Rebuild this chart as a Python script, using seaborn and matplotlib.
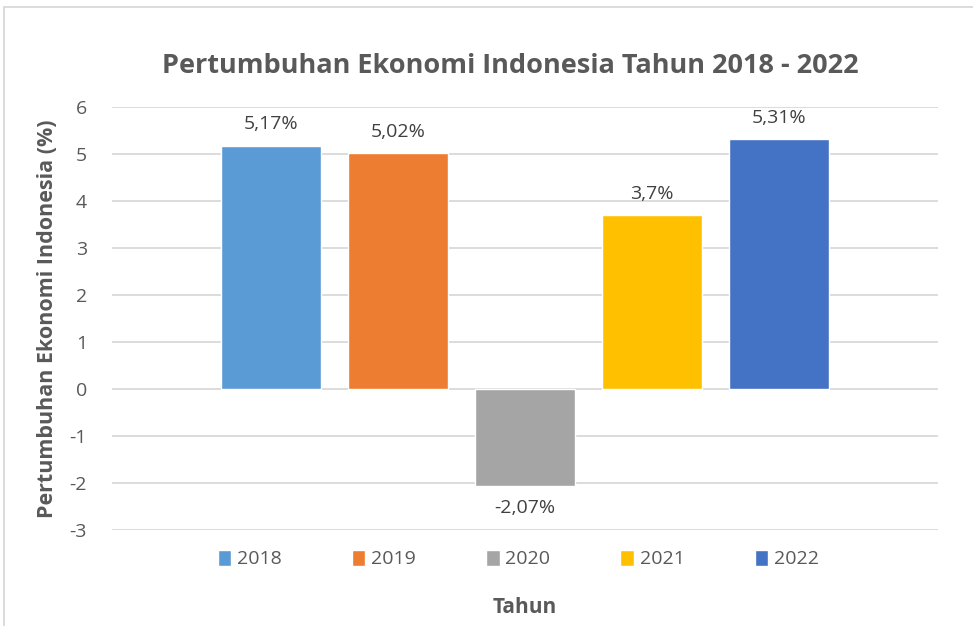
import matplotlib
matplotlib.use("Agg")
import matplotlib.pyplot as plt
import seaborn as sns
import pandas as pd
from matplotlib.patches import Rectangle

# data
years = ["2018", "2019", "2020", "2021", "2022"]
growth = [5.17, 5.02, -2.07, 3.7, 5.31]
labels = ["5,17%", "5,02%", "-2,07%", "3,7%", "5,31%"]
colors = ["#5B9BD5", "#ED7D31", "#A5A5A5", "#FFC000", "#4472C4"]

TEXT = "#595959"

sns.set_theme(style="white")
plt.rcParams["font.family"] = ["Open Sans", "DejaVu Sans"]
plt.rcParams["axes.unicode_minus"] = False

df = pd.DataFrame({"Tahun": years, "Pertumbuhan": growth})

fig = plt.figure(figsize=(9.73, 6.26), dpi=100)
ax = fig.add_axes([0.1151, 0.1534, 0.849, 0.6757])

sns.barplot(data=df, x="Tahun", y="Pertumbuhan", hue="Tahun",
            palette=colors, width=0.787, ax=ax, saturation=1, legend=True)

ax.set_ylim(-3, 6)
ax.set_xlim(-1.252, 5.252)
ax.set_yticks(range(-3, 7))
ax.yaxis.grid(True, color="#D9D9D9", linewidth=1.3)
ax.set_axisbelow(True)
for s in ax.spines.values():
    s.set_visible(False)
ax.tick_params(axis="y", length=0, pad=18, labelsize=14, labelcolor=TEXT)
ax.set_xticks([])

# value labels
for i, (v, lab) in enumerate(zip(growth, labels)):
    off = 9 if v >= 0 else -9
    ax.annotate(lab, (i, v), xytext=(0, off), textcoords="offset points",
                ha="center", va="bottom" if v >= 0 else "top",
                fontsize=14, color="#404040")

ax.set_xlabel("Tahun", fontsize=15, fontweight="bold", color=TEXT, labelpad=48)
ax.set_ylabel("Pertumbuhan Ekonomi Indonesia (%)", fontsize=15.5,
              fontweight="bold", color=TEXT, labelpad=8)

sns.move_legend(ax, "upper center", bbox_to_anchor=(0.492, -0.005), ncol=5,
                frameon=False, title=None, fontsize=14, handlelength=0.7,
                handleheight=0.9, handletextpad=0.3, columnspacing=3.6)
for t in ax.get_legend().get_texts():
    t.set_color(TEXT)

fig.suptitle("Pertumbuhan Ekonomi Indonesia Tahun 2018 - 2022", x=0.524, y=0.915,
             fontsize=19.5, fontweight="bold", color=TEXT)

# chart frame like the spreadsheet export
fig.patches.append(Rectangle((4 / 973, -0.1), 1.2, 1.1 - 7 / 626,
                             transform=fig.transFigure, fill=False,
                             edgecolor="#D9D9D9", linewidth=1.3))

fig.savefig("out.png", dpi=100)
